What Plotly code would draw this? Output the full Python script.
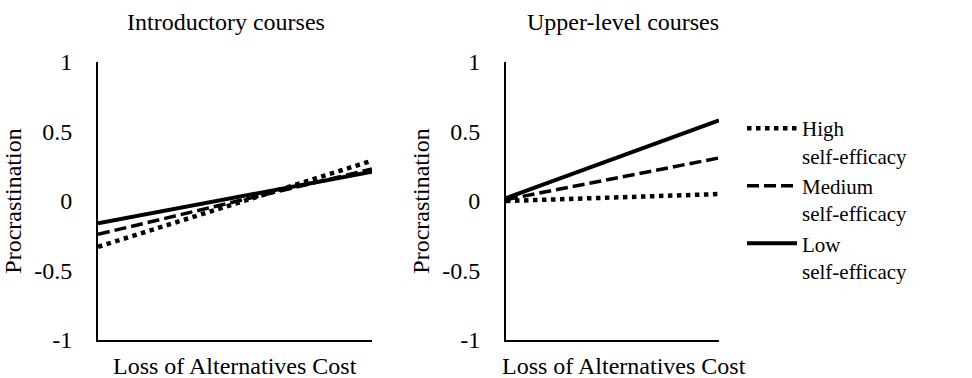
import plotly.graph_objects as go

x_levels = ["Low", "High"]
series_names = ["High<br>self-efficacy", "Medium<br>self-efficacy", "Low<br>self-efficacy"]
intro_high = [-0.33, 0.29]
intro_medium = [-0.24, 0.23]
intro_low = [-0.16, 0.21]
upper_high = [0.00, 0.05]
upper_medium = [0.01, 0.31]
upper_low = [0.02, 0.58]
y_ticks = [-1, -0.5, 0, 0.5, 1]
y_ticklabels = ["-1", "-0.5", "0", "0.5", "1"]
panel_titles = ["Introductory courses", "Upper-level courses"]
x_title = "Loss of Alternatives Cost"
y_title = "Procrastination"

W, H = 972, 378
FONT = "'Liberation Serif', 'Times New Roman', Times, serif"
FS = 24
LFS = 21

styles = [dict(dash="dot", width=4.5), dict(dash="12px,5px", width=3.5), dict(dash="solid", width=4)]

fig = go.Figure()
for i, (name, ys) in enumerate(zip(series_names, [intro_high, intro_medium, intro_low])):
    fig.add_trace(go.Scatter(x=x_levels, y=ys, mode="lines", name=name, showlegend=False,
                             line=dict(color="black", **styles[i]), xaxis="x", yaxis="y"))
for i, (name, ys) in enumerate(zip(series_names, [upper_high, upper_medium, upper_low])):
    fig.add_trace(go.Scatter(x=x_levels, y=ys, mode="lines", name=name, showlegend=True,
                             line=dict(color="black", **styles[i]), xaxis="x2", yaxis="y2"))

ydom = [(H - 340) / H, (H - 62) / H]
axis_common = dict(showline=True, linecolor="black", linewidth=2, showgrid=False, zeroline=False,
                   automargin=False)
xcommon = dict(axis_common, type="category", range=[0, 1], showticklabels=False, ticks="")
ycommon = dict(axis_common, range=[-1, 1], tickvals=y_ticks, ticktext=y_ticklabels,
               ticks="outside", ticklen=19, tickcolor="rgba(0,0,0,0)",
               tickfont=dict(family=FONT, size=FS, color="black"),
               title=dict(text=y_title, font=dict(family=FONT, size=FS, color="black"), standoff=6))

def label(text, x, y):
    return dict(text=text, x=x / W, y=(H - y) / H, xref="paper", yref="paper",
                xanchor="center", yanchor="middle", showarrow=False,
                font=dict(family=FONT, size=FS, color="black"))

fig.update_layout(
    width=W, height=H,
    margin=dict(l=0, r=0, t=0, b=0, autoexpand=False),
    paper_bgcolor="white", plot_bgcolor="white",
    font=dict(family=FONT, size=FS, color="black"),
    xaxis=dict(xcommon, domain=[98 / W, 372 / W], anchor="y"),
    yaxis=dict(ycommon, domain=ydom, anchor="x"),
    xaxis2=dict(xcommon, domain=[506 / W, 719 / W], anchor="y2"),
    yaxis2=dict(ycommon, domain=ydom, anchor="x2"),
    legend=dict(x=742 / W, y=(H - 108) / H, xanchor="left", yanchor="top",
                font=dict(family=FONT, size=LFS, color="black"),
                valign="top", itemwidth=50, tracegroupgap=0, bgcolor="rgba(0,0,0,0)"),
    annotations=[
        label(panel_titles[0], 226, 22),
        label(panel_titles[1], 623, 22),
        label(x_title, 235, 366),
        label(x_title, 624, 366),
    ],
)

fig.write_html("out.html")
